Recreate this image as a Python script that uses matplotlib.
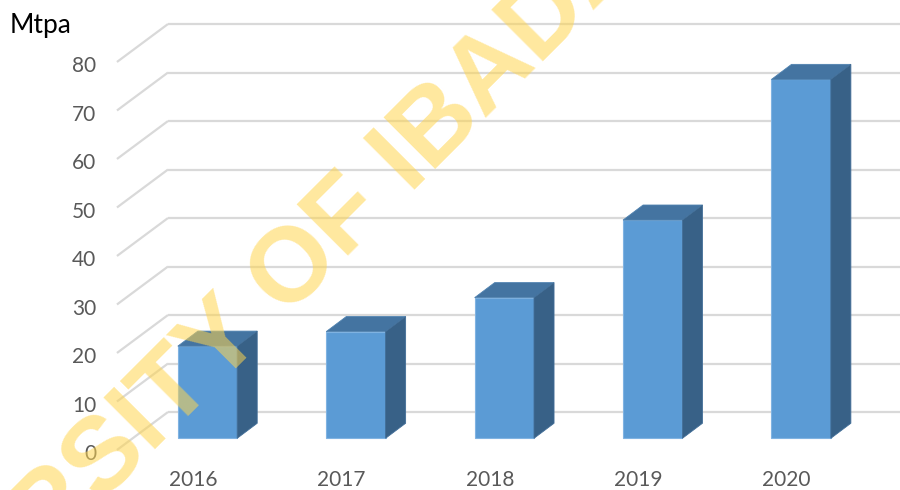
import matplotlib.pyplot as plt
from matplotlib.patches import Polygon
import numpy as np

# data
years = ["2016", "2017", "2018", "2019", "2020"]
mtpa = [19, 22, 29, 45, 74]
yticks = [0, 10, 20, 30, 40, 50, 60, 70, 80]

FRONT = "#5B9BD5"
TOP = "#4474A1"
SIDE = "#386187"
GRID = "#D9D9D9"

# fake 3d geometry (data units)
BAR_W = 0.4
DEPTH_X = 0.135
DEPTH_Y = 3.1
WALL_X, WALL_Y = -0.266, 5.42      # back wall offset from bar front plane
LAB_X, LAB_Y = -0.61, -2.41        # front (label) plane offset

fig = plt.figure(figsize=(9, 4.9), dpi=100)
ax = fig.add_axes([0, 0, 1, 1])
ax.set_xlim(-1.398, 4.666)
ax.set_ylim(-10.66, 90.37)
ax.axis("off")

# gridlines: diagonal on the side wall, then flat along the back wall
for v in yticks:
    ax.plot([LAB_X, WALL_X], [v + LAB_Y, v + WALL_Y], color=GRID, lw=1.6, zorder=1,
            solid_capstyle="butt")
    ax.plot([WALL_X, 5], [v + WALL_Y, v + WALL_Y], color=GRID, lw=1.6, zorder=1,
            solid_capstyle="butt")
    ax.text(-0.751, v + LAB_Y - 0.9, str(v), ha="right", va="center",
            fontsize=15, color="#595959", family="Lato")

x = np.arange(len(years))
ax.bar(x, mtpa, width=BAR_W, color=FRONT, edgecolor="#80B3E2", lw=0.8, zorder=3)
for xi, v in zip(x, mtpa):
    l, r = xi - BAR_W / 2, xi + BAR_W / 2
    top = Polygon([(l, v), (r, v), (r + DEPTH_X, v + DEPTH_Y), (l + DEPTH_X, v + DEPTH_Y)],
                  closed=True, facecolor=TOP, edgecolor="#4F82B0", lw=0.6, zorder=3)
    side = Polygon([(r, 0), (r, v), (r + DEPTH_X, v + DEPTH_Y), (r + DEPTH_X, DEPTH_Y)],
                   closed=True, facecolor=SIDE, edgecolor="#426E98", lw=0.6, zorder=3)
    ax.add_patch(top)
    ax.add_patch(side)
    ax.text(xi - 0.098, -8.5, years[xi], ha="center", va="center",
            fontsize=15, color="#595959", family="Lato")

fig.text(10 / 900, 1 - 26 / 490, "Mtpa", ha="left", va="center",
         fontsize=19, color="black", family="Lato")

# watermark
fig.text(240 / 900, 1 - 325 / 490, "UNIVERSITY OF IBADAN", rotation=45,
         rotation_mode="anchor", ha="center", va="center", fontsize=76,
         fontweight="bold", family="Liberation Sans", color="#FFD54F",
         alpha=0.55, zorder=10)

fig.savefig("out.png", dpi=100)
